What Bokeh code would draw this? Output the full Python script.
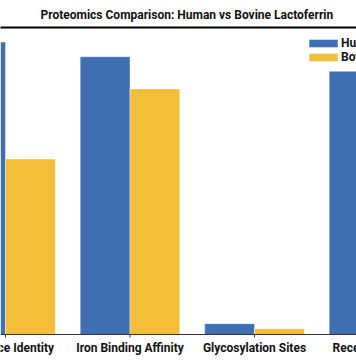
from bokeh.plotting import figure
from bokeh.models import (Range1d, LinearAxis, FixedTicker, Legend, LegendItem,
                          ColumnDataSource, Span)
from bokeh.core.properties import value
from bokeh.transform import dodge
from bokeh.embed import file_html
from bokeh.resources import INLINE

categories = ["Sequence Identity", "Iron Binding Affinity", "Glycosylation Sites", "Receptor Binding"]
human = [100, 95, 3.7, 90]
bovine = [60, 84, 2, 75]
series_names = ["Human", "Bovine"]
colors = ["#406EB2", "#F3BE3A"]

FONT = "Roboto"
PX_PER_CAT = 124.5
W, H = 356, 364
TOP_PX, BASE_PX = 27, 334          # frame top and baseline, canvas pixels
Y_MAX = 105
UNITS_PER_PX = Y_MAX / (BASE_PX - TOP_PX)

xs = [i + 0.5 for i in range(len(categories))]
src = ColumnDataSource(dict(x=xs, cat=categories, human=human, bovine=bovine))

x_start = 0.5 - 5 / PX_PER_CAT
x_range = Range1d(x_start, x_start + W / PX_PER_CAT)
y_range = Range1d(-(H - BASE_PX) * UNITS_PER_PX, Y_MAX)

p = figure(width=W, height=H, x_range=x_range, y_range=y_range,
           output_backend="svg", toolbar_location=None,
           x_axis_location=None, y_axis_location=None,
           min_border_left=0, min_border_right=0, min_border_top=TOP_PX, min_border_bottom=0)

p.title.text = "Proteomics Comparison: Human vs Bovine Lactoferrin"
p.title.text_font = FONT
p.title.text_font_size = "12px"
p.title.text_font_style = "bold"
p.title.text_color = "#111111"
p.title.align = "left"
p.title.offset = 40
p.title.standoff = 11

r1 = p.vbar(x=dodge("x", -0.2), top="human", width=0.4, source=src,
            fill_color=colors[0], line_color="white", line_alpha=0.4, line_width=1)
r2 = p.vbar(x=dodge("x", 0.2), top="bovine", width=0.4, source=src,
            fill_color=colors[1], line_color="white", line_alpha=0.4, line_width=1)

p.xgrid.grid_line_color = None
p.ygrid.grid_line_color = None
p.outline_line_color = None

# category axis: baseline, ticks and labels
p.add_layout(Span(location=0, dimension="width", line_color="#333333", line_width=1))
p.segment(x0="x", y0=0, x1="x", y1=-3 * UNITS_PER_PX, source=src,
          line_color="#333333", line_width=1)
p.text(x="x", y=0, text="cat", source=src, y_offset=6,
       text_align="center", text_baseline="top", text_font=value(FONT),
       text_font_size="12px", text_font_style="bold", text_color="#111111")

top_ax = LinearAxis(ticker=FixedTicker(ticks=[]), axis_line_color="black", axis_line_width=2,
                    major_tick_out=0, major_tick_in=0, minor_tick_out=0, minor_tick_in=0,
                    major_label_standoff=0)
p.add_layout(top_ax, "above")

legend = Legend(items=[LegendItem(label=series_names[0], renderers=[r1]),
                       LegendItem(label=series_names[1], renderers=[r2])],
                location=(305, 270 + (H - BASE_PX)), padding=0, margin=0, spacing=0,
                glyph_width=36, glyph_height=10, label_height=12, label_standoff=0,
                label_text_font=FONT, label_text_font_size="12px",
                label_text_font_style="bold", label_text_color="#111111",
                border_line_color=None, background_fill_alpha=0)
p.add_layout(legend)

open("out.html", "w").write(file_html(p, INLINE))
